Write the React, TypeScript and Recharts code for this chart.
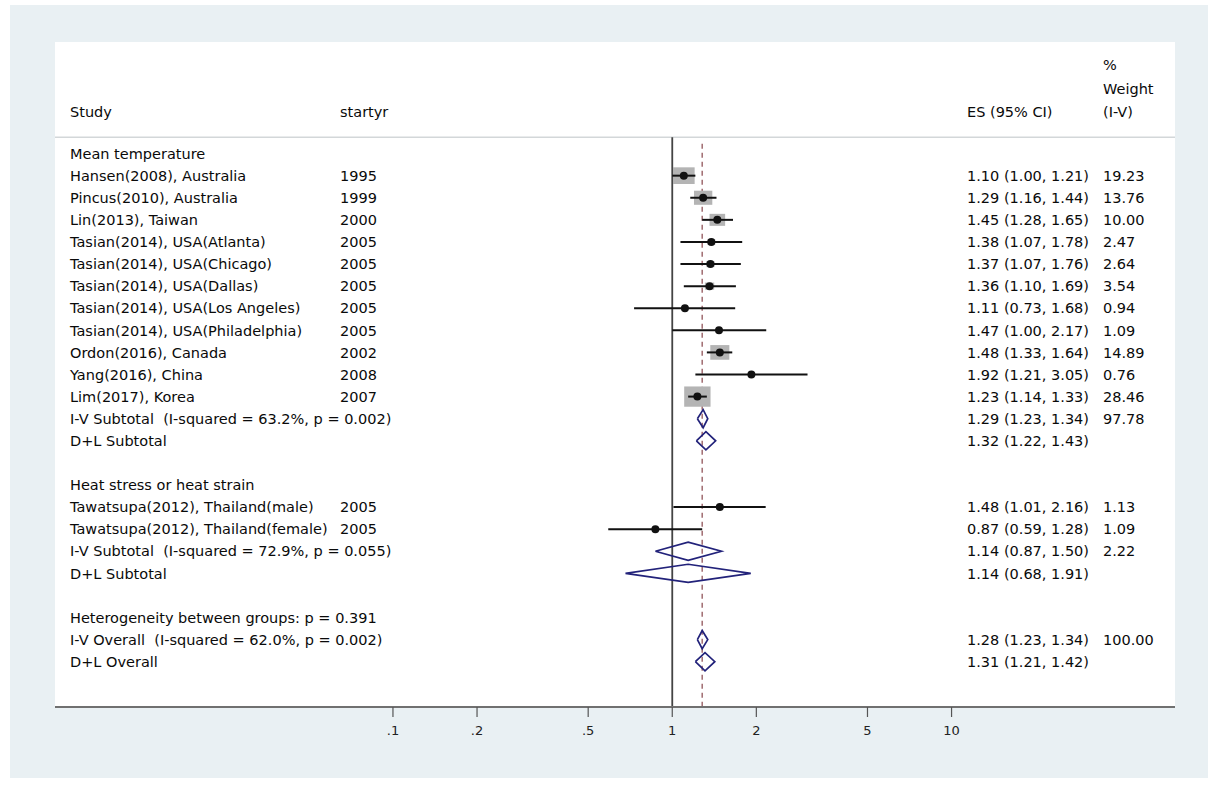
import React from 'react';
import { ComposedChart, Scatter, XAxis, YAxis, ReferenceLine } from 'recharts';

// ---------- data ----------
const rowLabels: string[] = [
  'Mean temperature',
  'Hansen(2008), Australia',
  'Pincus(2010), Australia',
  'Lin(2013), Taiwan',
  'Tasian(2014), USA(Atlanta)',
  'Tasian(2014), USA(Chicago)',
  'Tasian(2014), USA(Dallas)',
  'Tasian(2014), USA(Los Angeles)',
  'Tasian(2014), USA(Philadelphia)',
  'Ordon(2016), Canada',
  'Yang(2016), China',
  'Lim(2017), Korea',
  'I-V Subtotal  (I-squared = 63.2%, p = 0.002)',
  'D+L Subtotal',
  '',
  'Heat stress or heat strain',
  'Tawatsupa(2012), Thailand(male)',
  'Tawatsupa(2012), Thailand(female)',
  'I-V Subtotal  (I-squared = 72.9%, p = 0.055)',
  'D+L Subtotal',
  '',
  'Heterogeneity between groups: p = 0.391',
  'I-V Overall  (I-squared = 62.0%, p = 0.002)',
  'D+L Overall',
];

const rowYears: string[] = [
  '', '1995', '1999', '2000', '2005', '2005', '2005', '2005', '2005', '2002', '2008', '2007',
  '', '', '', '', '2005', '2005', '', '', '', '', '', '',
];

// kind: t = text only, s = study, d = pooled diamond
const rowKinds: string[] = [
  't', 's', 's', 's', 's', 's', 's', 's', 's', 's', 's', 's',
  'd', 'd', 't', 't', 's', 's', 'd', 'd', 't', 't', 'd', 'd',
];

const rowES: (number | null)[] = [
  null, 1.10, 1.29, 1.45, 1.38, 1.37, 1.36, 1.11, 1.47, 1.48, 1.92, 1.23,
  1.29, 1.32, null, null, 1.48, 0.87, 1.14, 1.14, null, null, 1.28, 1.31,
];
const rowLo: (number | null)[] = [
  null, 1.00, 1.16, 1.28, 1.07, 1.07, 1.10, 0.73, 1.00, 1.33, 1.21, 1.14,
  1.23, 1.22, null, null, 1.01, 0.59, 0.87, 0.68, null, null, 1.23, 1.21,
];
const rowHi: (number | null)[] = [
  null, 1.21, 1.44, 1.65, 1.78, 1.76, 1.69, 1.68, 2.17, 1.64, 3.05, 1.33,
  1.34, 1.43, null, null, 2.16, 1.28, 1.50, 1.91, null, null, 1.34, 1.42,
];
const rowWeight: (number | null)[] = [
  null, 19.23, 13.76, 10.0, 2.47, 2.64, 3.54, 0.94, 1.09, 14.89, 0.76, 28.46,
  97.78, null, null, null, 1.13, 1.09, 2.22, null, null, null, 100.0, null,
];

const overallES = 1.28;

const tickValues = [0.1, 0.2, 0.5, 1, 2, 5, 10];
const tickLabels = ['.1', '.2', '.5', '1', '2', '5', '10'];

const headerPercent = '%';
const headerWeight = 'Weight';
const headerCols = ['Study', 'startyr', 'ES (95% CI)', '(I-V)'];

// ---------- layout / style ----------
const W = 1213;
const H = 791;
const PANEL = { left: 55, top: 42, right: 1175, bottom: 707 };
const X_DOMAIN: [number, number] = [-2.21, 1.8];
const Y_DOMAIN: [number, number] = [-5.05, 25.05];
const COLS = [70, 340, 967, 1103];
const FONT = '"DejaVu Sans", "Liberation Sans", Arial, sans-serif';
const TEXT_FILL = '#0a0a0a';
const NAVY = '#22227a';
const DIAMOND_HALF = 0.41; // in row units
const HEADER_LINE_Y = -0.74;

const lg = (v: number) => Math.log10(v);
const fmt = (v: number) => v.toFixed(2);

// text rows for the y-axis ticks
type TextRow = { pos: number; cells: string[] };
const textRows: TextRow[] = [
  { pos: -4.0, cells: ['', '', '', headerPercent] },
  { pos: -2.95, cells: ['', '', '', headerWeight] },
  { pos: -1.9, cells: headerCols },
  ...rowLabels.map((label, i) => ({
    pos: i,
    cells: [
      label,
      rowYears[i],
      rowES[i] != null ? `${fmt(rowES[i] as number)} (${fmt(rowLo[i] as number)}, ${fmt(rowHi[i] as number)})` : '',
      rowWeight[i] != null ? fmt(rowWeight[i] as number) : '',
    ],
  })),
];

const studyIdx = rowKinds.map((k, i) => ({ k, i })).filter((r) => r.k === 's').map((r) => r.i);

const studyData = studyIdx.map((i) => ({
  x: lg(rowES[i] as number),
  y: i,
  w: rowWeight[i] as number,
}));

const ciLines = studyIdx.map((i) => [
  { x: lg(rowLo[i] as number), y: i },
  { x: lg(rowHi[i] as number), y: i },
]);

const diamonds = rowKinds
  .map((k, i) => ({ k, i }))
  .filter((r) => r.k === 'd')
  .map(({ i }) => {
    const es = lg(rowES[i] as number);
    const lo = lg(rowLo[i] as number);
    const hi = lg(rowHi[i] as number);
    return [
      { x: lo, y: i },
      { x: es, y: i - DIAMOND_HALF },
      { x: hi, y: i },
      { x: es, y: i + DIAMOND_HALF },
      { x: lo, y: i },
    ];
  });

const RowTick = (props: any) => {
  const { y, payload } = props;
  const row = textRows.find((r) => Math.abs(r.pos - payload.value) < 1e-6);
  if (!row) return null;
  return (
    <g>
      {row.cells.map((c, j) =>
        c ? (
          <text
            key={j}
            x={COLS[j]}
            y={y}
            dy="0.36em"
            fontSize={14.5}
            fontFamily={FONT}
            fill={TEXT_FILL}
            textAnchor="start"
            style={{ whiteSpace: 'pre' }}
          >
            {c}
          </text>
        ) : null
      )}
    </g>
  );
};

const SquareShape = (p: any) => {
  const s = 3.8 * Math.sqrt(p.payload.w);
  return <rect x={p.cx - s * 0.65} y={p.cy - s / 2} width={s * 1.3} height={s} fill="#b4b4b4" />;
};

const DotShape = (p: any) => <circle cx={p.cx} cy={p.cy} r={4} fill="#111" />;

const EmptyShape = () => <g />;

export default function App() {
  return (
    <div style={{ position: 'absolute', left: 0, top: 0, width: W, height: H, background: '#fff' }}>
      <div
        style={{
          position: 'absolute',
          left: 10,
          top: 5,
          width: 1208 - 10,
          height: 778 - 5,
          background: '#e9f0f3',
        }}
      />
      <div
        style={{
          position: 'absolute',
          left: PANEL.left,
          top: PANEL.top,
          width: PANEL.right - PANEL.left,
          height: PANEL.bottom - PANEL.top,
          background: '#fff',
        }}
      />
      <div style={{ position: 'absolute', left: 0, top: 0 }}>
        <ComposedChart
          width={W}
          height={H}
          margin={{ top: PANEL.top, right: W - PANEL.right, bottom: H - PANEL.bottom - 30, left: PANEL.left - 1 }}
        >
          <XAxis
            type="number"
            dataKey="x"
            domain={X_DOMAIN}
            allowDataOverflow
            ticks={tickValues.map(lg)}
            interval={0}
            tickFormatter={(v: number, idx: number) => tickLabels[idx] ?? String(v)}
            height={30}
            tickSize={10}
            tickMargin={9}
            axisLine={{ stroke: '#707070', strokeWidth: 2 }}
            tickLine={{ stroke: '#555', strokeWidth: 1.2 }}
            tick={{ fontSize: 13, fontFamily: FONT, fill: '#222' }}
          />
          <YAxis
            type="number"
            dataKey="y"
            domain={Y_DOMAIN}
            allowDataOverflow
            reversed
            width={1}
            ticks={textRows.map((r) => r.pos)}
            interval={0}
            axisLine={false}
            tickLine={false}
            tick={<RowTick />}
          />
          <ReferenceLine y={HEADER_LINE_Y} stroke="#d3d7d9" strokeWidth={1.5} />
          <ReferenceLine
            segment={[
              { x: 0, y: HEADER_LINE_Y },
              { x: 0, y: Y_DOMAIN[1] },
            ]}
            stroke="#444"
            strokeWidth={1.8}
          />
          <ReferenceLine
            segment={[
              { x: lg(overallES), y: -0.45 },
              { x: lg(overallES), y: Y_DOMAIN[1] },
            ]}
            stroke="#a06c70"
            strokeWidth={1.5}
            strokeDasharray="5 4"
          />
          <Scatter data={studyData} shape={SquareShape} isAnimationActive={false} legendType="none" />
          {ciLines.map((d, k) => (
            <Scatter
              key={`ci${k}`}
              data={d}
              shape={EmptyShape}
              line={{ stroke: '#111', strokeWidth: 2 }}
              isAnimationActive={false}
              legendType="none"
            />
          ))}
          <Scatter data={studyData} shape={DotShape} isAnimationActive={false} legendType="none" />
          {diamonds.map((d, k) => (
            <Scatter
              key={`dm${k}`}
              data={d}
              shape={EmptyShape}
              line={{ stroke: NAVY, strokeWidth: 1.7 }}
              isAnimationActive={false}
              legendType="none"
            />
          ))}
        </ComposedChart>
      </div>
    </div>
  );
}
